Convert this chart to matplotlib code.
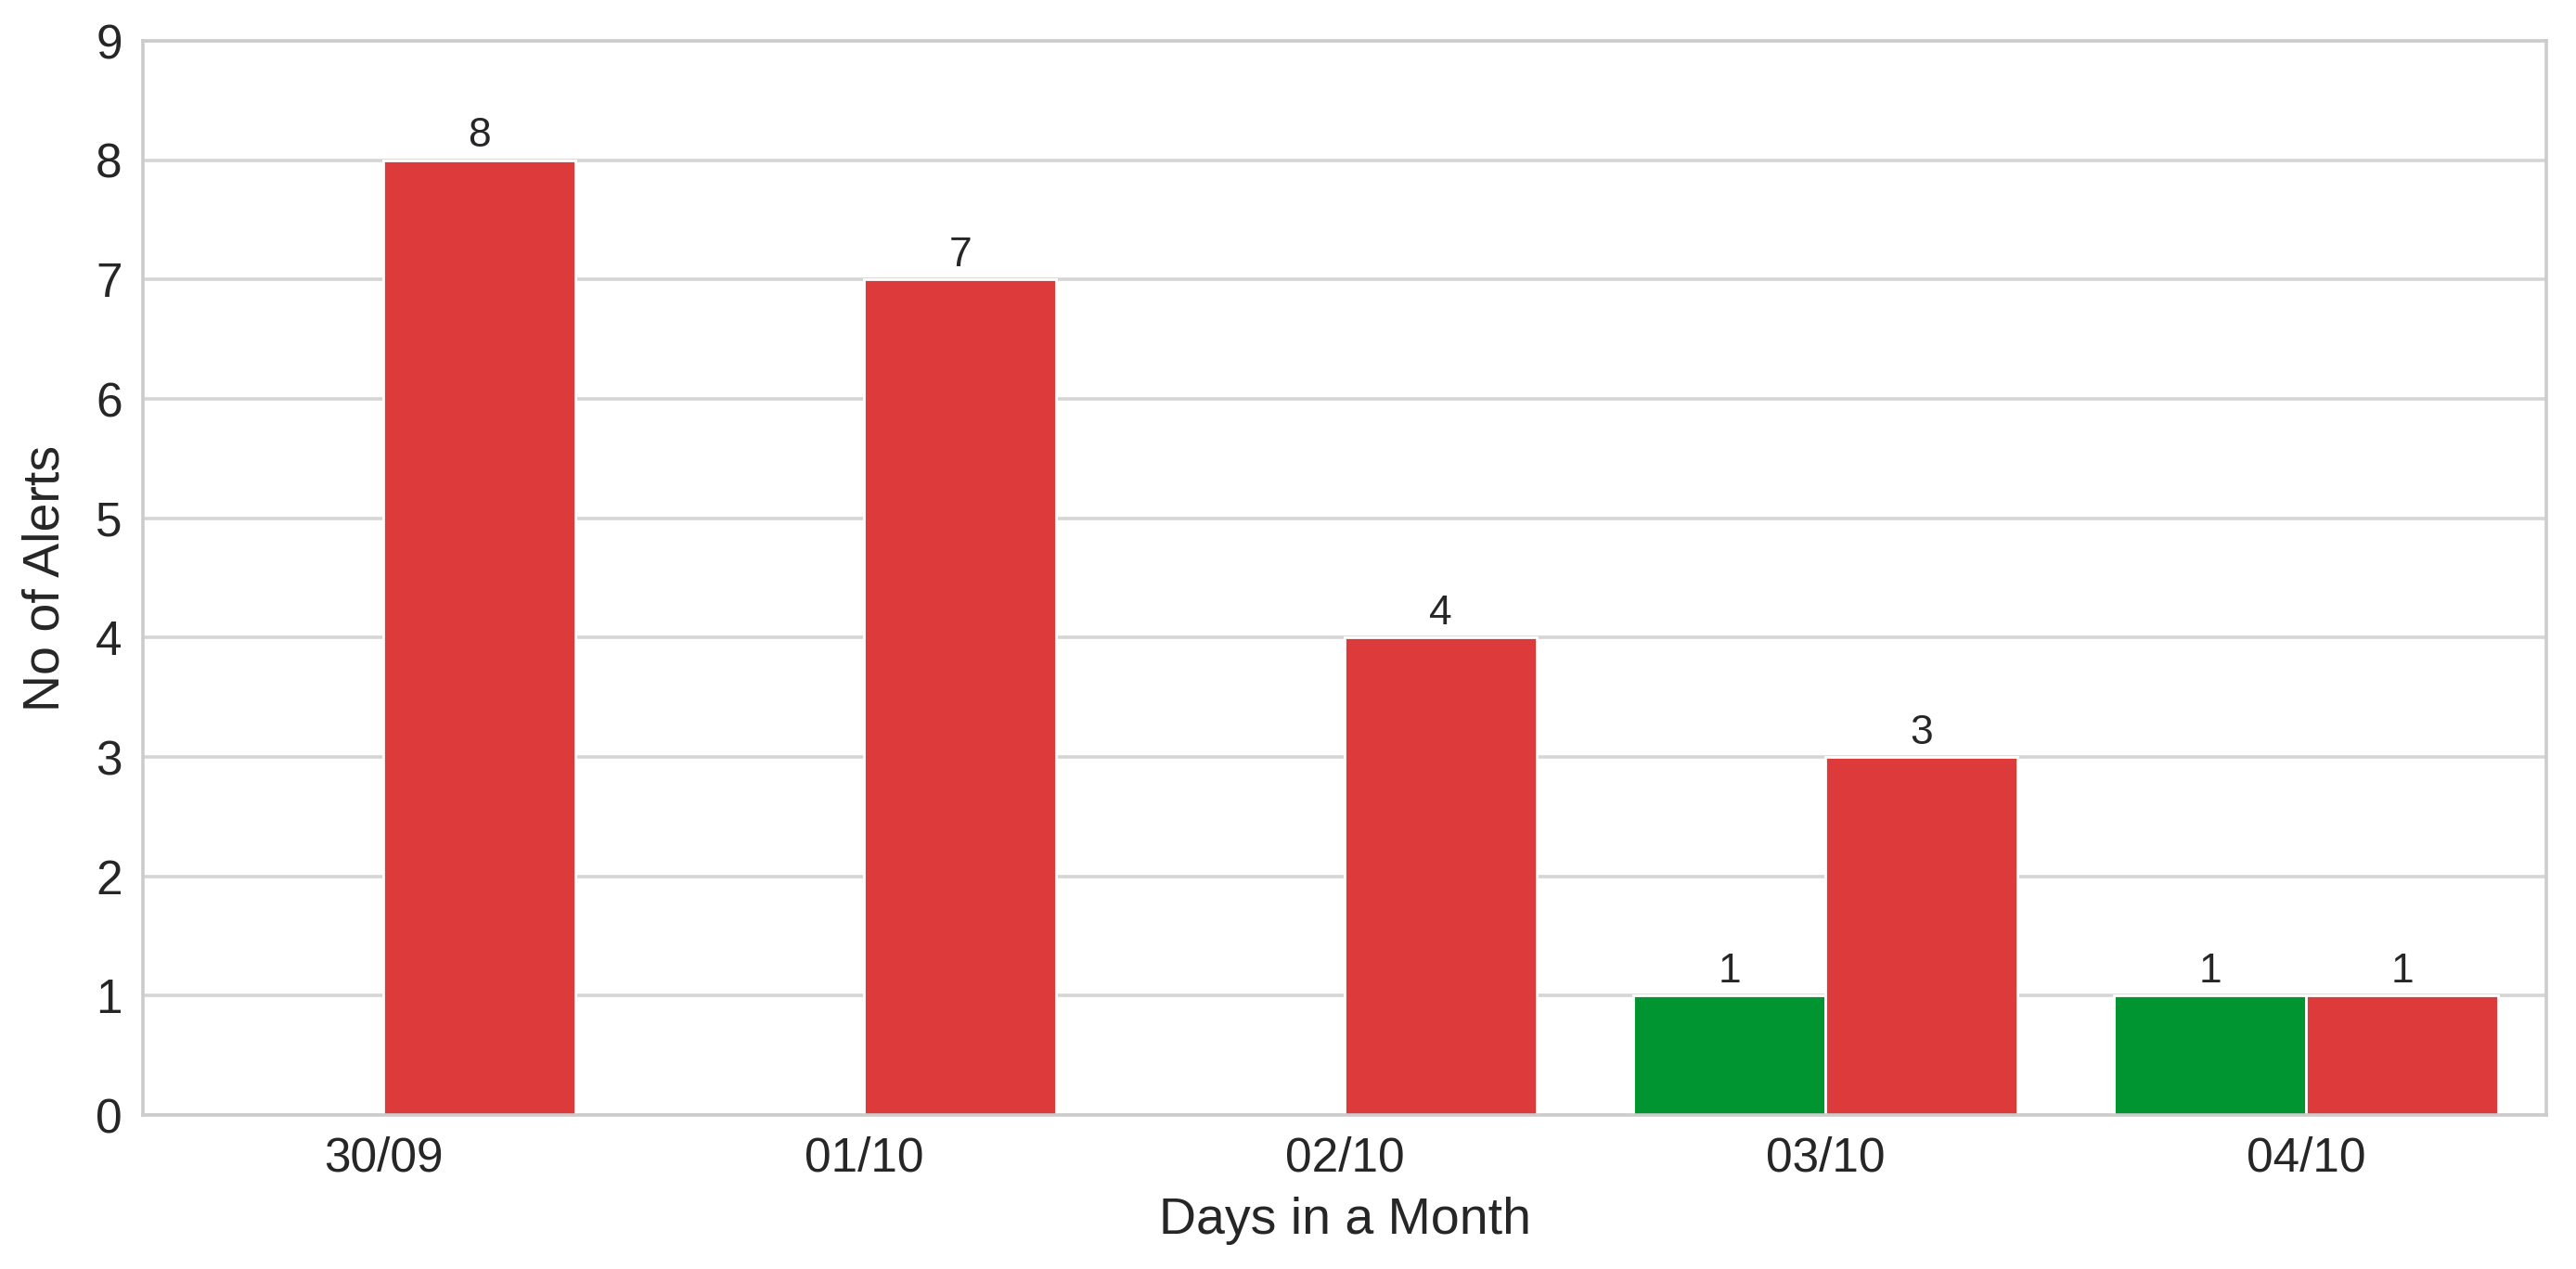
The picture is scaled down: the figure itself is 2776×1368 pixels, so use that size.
import matplotlib
matplotlib.use("Agg")
import matplotlib.pyplot as plt
import numpy as np

days = ["30/09", "01/10", "02/10", "03/10", "04/10"]
green_vals = [0, 0, 0, 1, 1]
red_vals = [8, 7, 4, 3, 1]
yticks = [0, 1, 2, 3, 4, 5, 6, 7, 8, 9]

GREEN = "#009530"
RED = "#dd3b3b"

plt.rcParams['font.family'] = ['Liberation Sans', 'DejaVu Sans']

fig = plt.figure(figsize=(13.88, 6.84), dpi=200)
ax = fig.add_axes([0.0555, 0.1213, 0.933, 0.8465])

x = np.arange(len(days))
w = 0.4
b1 = ax.bar(x - w / 2, green_vals, width=w, color=GREEN, edgecolor="white", linewidth=1, zorder=2)
b2 = ax.bar(x + w / 2, red_vals, width=w, color=RED, edgecolor="white", linewidth=1, zorder=2)

for bars, vals in ((b1, green_vals), (b2, red_vals)):
    ax.bar_label(bars, labels=[str(v) if v else "" for v in vals], padding=2,
                 fontsize=16, color="#262626")

ax.set_xlim(-0.5, len(days) - 0.5)
ax.set_ylim(0, 9)
ax.set_yticks(yticks)
ax.set_xticks(x)
ax.set_xticklabels(days)
ax.tick_params(axis="both", labelsize=18.5, colors="#262626", length=0, pad=8)
ax.yaxis.grid(True, color="#d5d5d5", linewidth=1.3, zorder=0)
ax.xaxis.grid(False)
ax.set_axisbelow(True)
for s in ax.spines.values():
    s.set_color("#cccccc")
    s.set_linewidth(1.3)
ax.set_xlabel("Days in a Month", fontsize=20, color="#262626", labelpad=6)
ax.set_ylabel("No of Alerts", fontsize=20, color="#262626", labelpad=10)

fig.savefig("out.png", dpi=200, facecolor="white")
